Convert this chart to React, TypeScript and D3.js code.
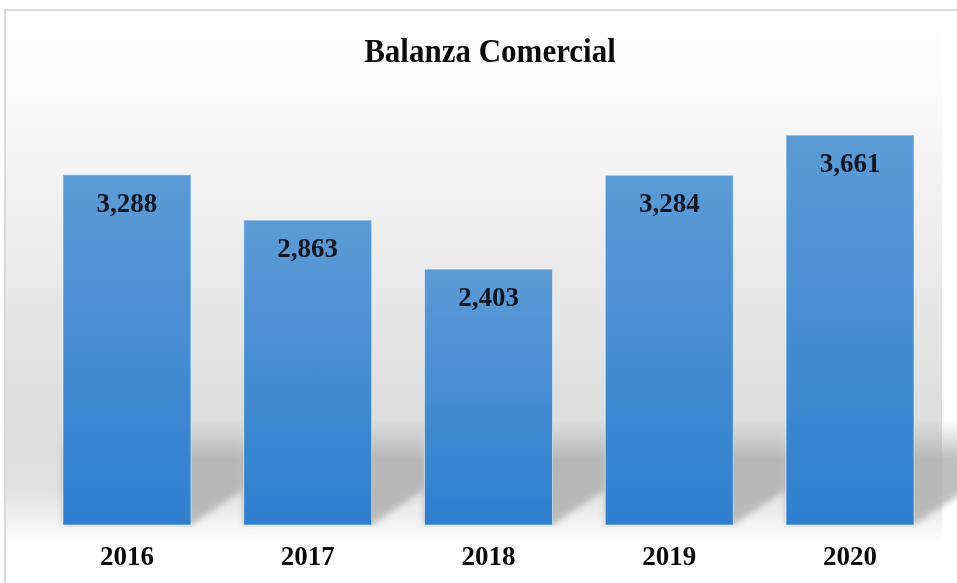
import React from "react";
import * as d3 from "d3";

const years = ["2016", "2017", "2018", "2019", "2020"];
const values = [3288, 2863, 2403, 3284, 3661];
const title = "Balanza Comercial";

const W = 957;
const H = 583;

export default function App() {
  const x = d3
    .scaleBand<string>()
    .domain(years)
    .range([36.6, 940.4])
    .paddingInner(0.292)
    .paddingOuter(0.146);
  const y = d3.scaleLinear().domain([0, 4000]).range([525, 99]);
  const fmt = d3.format(",");
  const bottom = y(0);
  const dx = 52;
  const dy = 35;
  const serif = "'Liberation Serif', 'Times New Roman', serif";

  return (
    <svg
      width={W}
      height={H}
      style={{ position: "absolute", left: 0, top: 0, display: "block", background: "#fff" }}
    >
      <defs>
        <linearGradient id="bg" x1="0" y1="10" x2="0" y2="545" gradientUnits="userSpaceOnUse">
          <stop offset="0" stopColor="#ffffff" />
          <stop offset="0.15" stopColor="#fbfbfb" />
          <stop offset="0.45" stopColor="#ececec" />
          <stop offset="0.75" stopColor="#dedede" />
          <stop offset="0.9" stopColor="#e2e2e2" />
          <stop offset="1" stopColor="#ffffff" />
        </linearGradient>
        <linearGradient id="bar" x1="0" y1="0" x2="0" y2="1">
          <stop offset="0" stopColor="#5c9bd6" />
          <stop offset="1" stopColor="#2f7ecd" />
        </linearGradient>
        <linearGradient id="fade" x1="0" y1="420" x2="0" y2="530" gradientUnits="userSpaceOnUse">
          <stop offset="0" stopColor="#000" />
          <stop offset="0.35" stopColor="#fff" />
          <stop offset="0.95" stopColor="#fff" />
          <stop offset="1" stopColor="#000" />
        </linearGradient>
        <mask id="shmask" maskUnits="userSpaceOnUse" x="0" y="0" width={W} height={H}>
          <rect x="0" y="420" width={W} height="110" fill="url(#fade)" />
        </mask>
        <filter id="blur" x="-20%" y="-20%" width="140%" height="140%">
          <feGaussianBlur stdDeviation="3" />
        </filter>
      </defs>

      <rect x={5} y={10} width={W} height={H} fill="#ffffff" stroke="#d9d9d9" strokeWidth={2} />
      <rect x={6} y={11} width={936} height={535} fill="url(#bg)" />

      <g mask="url(#shmask)">
        <g filter="url(#blur)">
          {years.map((yr, i) => {
            const x0 = x(yr)!;
            const x1 = x0 + x.bandwidth();
            const top = y(values[i]);
            const pts = [
              [x0, bottom],
              [x1, bottom],
              [x1 + dx, bottom - dy],
              [x1 + dx, top - dy],
              [x0 + dx, top - dy],
              [x0, top],
            ]
              .map((p) => p.join(","))
              .join(" ");
            return <polygon key={yr} points={pts} fill="#a8a8a8" opacity={0.75} />;
          })}
        </g>
      </g>

      {years.map((yr, i) => (
        <rect
          key={yr}
          x={x(yr)}
          y={y(values[i])}
          width={x.bandwidth()}
          height={bottom - y(values[i])}
          fill="url(#bar)"
          stroke="rgba(235,243,252,0.6)"
          strokeWidth={1}
        />
      ))}

      {years.map((yr, i) => (
        <text
          key={yr}
          x={x(yr)! + x.bandwidth() / 2}
          y={y(values[i]) + 37}
          textAnchor="middle"
          fontFamily={serif}
          fontWeight="bold"
          fontSize={27}
          fill="#0e1622"
        >
          {fmt(values[i])}
        </text>
      ))}

      {years.map((yr) => (
        <text
          key={yr}
          x={x(yr)! + x.bandwidth() / 2}
          y={565}
          textAnchor="middle"
          fontFamily={serif}
          fontWeight="bold"
          fontSize={27}
          fill="#0a0a0a"
        >
          {yr}
        </text>
      ))}

      <text
        transform="translate(490,62) scale(1,1.12)"
        textAnchor="middle"
        fontFamily={serif}
        fontWeight="bold"
        fontSize={31}
        fill="#0a0a0a"
      >
        {title}
      </text>
    </svg>
  );
}
